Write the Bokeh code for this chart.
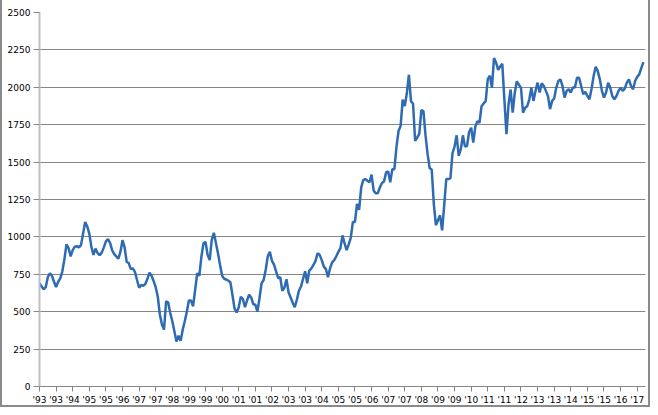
from bokeh.plotting import figure
from bokeh.models import FixedTicker, Range1d, ColumnDataSource
from bokeh.embed import file_html
from bokeh.resources import INLINE

# Monthly values, Jan 1993 .. Apr 2017
values = [
    690, 668, 650, 664, 730, 757, 740, 700, 664, 700, 723, 770,          # 1993
    850, 950, 925, 870, 911, 935, 938, 930, 945, 1022, 1100, 1070,       # 1994
    1022, 934, 880, 922, 892, 878, 895, 930, 970, 985, 960, 911,         # 1995
    885, 870, 855, 900, 978, 930, 834, 825, 785, 790, 765, 712,          # 1996
    660, 679, 673, 685, 720, 761, 740, 705, 664, 600, 480, 414,          # 1997
    380, 569, 562, 491, 436, 370, 300, 340, 305, 380, 436, 502,          # 1998
    575, 575, 535, 646, 757, 740, 867, 956, 967, 880, 845, 980,          # 1999
    1027, 960, 890, 812, 740, 720, 715, 708, 695, 610, 520, 495,         # 2000
    530, 600, 585, 530, 575, 613, 595, 550, 547, 500, 590, 690,          # 2001
    712, 780, 870, 900, 840, 815, 770, 725, 730, 640, 660, 717,          # 2002
    630, 595, 560, 530, 580, 640, 668, 720, 770, 690, 775, 790,          # 2003
    812, 840, 890, 880, 845, 801, 785, 730, 790, 830, 845, 870,          # 2004
    900, 925, 1010, 956, 912, 950, 995, 1100, 1100, 1221, 1180, 1330,    # 2005
    1380, 1387, 1375, 1365, 1416, 1310, 1292, 1292, 1330, 1360, 1370, 1431,  # 2006
    1438, 1365, 1453, 1453, 1600, 1708, 1741, 1918, 1874, 1960, 2084, 1907,  # 2007
    1890, 1642, 1664, 1690, 1847, 1841, 1680, 1553, 1460, 1449, 1221, 1078,  # 2008
    1111, 1144, 1044, 1210, 1387, 1387, 1392, 1560, 1604, 1679, 1542, 1586,  # 2009
    1679, 1604, 1608, 1701, 1730, 1631, 1737, 1774, 1763, 1874, 1892, 1907,  # 2010
    2055, 2077, 1996, 2195, 2166, 2117, 2139, 2157, 1918, 1686, 1885, 1985,  # 2011
    1830, 1962, 2040, 2018, 1996, 1830, 1863, 1874, 1918, 1998, 1909, 1976,  # 2012
    2031, 1965, 2027, 2009, 1976, 1942, 1854, 1909, 1925, 1998, 2042, 2053,  # 2013
    2009, 1931, 1976, 1987, 1965, 1998, 1998, 2064, 2064, 2009, 1954, 1969,  # 2014
    1942, 1920, 1990, 2075, 2137, 2108, 2053, 1976, 1931, 1965, 2031, 1998,  # 2015
    1942, 1920, 1942, 1976, 1998, 1976, 1991, 2031, 2053, 2009, 1987, 2042,  # 2016
    2070, 2086, 2130, 2168,                                              # 2017
]

tick_labels = ["'93", "'93", "'94", "'95", "'95", "'96", "'97", "'97", "'98",
               "'99", "'99", "'00", "'01", "'01", "'02", "'03", "'03", "'04",
               "'05", "'05", "'06", "'07", "'07", "'08", "'09", "'09", "'10",
               "'11", "'11", "'12", "'13", "'13", "'14", "'15", "'15", "'16",
               "'17"]
label_every = 8
y_ticks = [0, 250, 500, 750, 1000, 1250, 1500, 1750, 2000, 2250, 2500]

x = list(range(len(values)))
tick_pos = list(range(0, len(values), label_every))[:len(tick_labels)]

src = ColumnDataSource(dict(x=x, y=values))

p = figure(width=650, height=407, output_backend="svg", toolbar_location=None,
           x_range=Range1d(0, len(values)), y_range=Range1d(0, 2500),
           min_border_left=39, min_border_right=5, min_border_top=12,
           min_border_bottom=20)

p.line("x", "y", source=src, line_color="#2E6BB2", line_width=2.5)

p.outline_line_color = None
p.background_fill_color = "white"
p.border_fill_color = None
p.styles = {"box-shadow": "inset 2px 0 0 #8a8a8a, inset -2px 0 0 #8a8a8a, inset 0 -2px 0 #8a8a8a",
            "background-color": "white"}

# x axis
p.xaxis.ticker = FixedTicker(ticks=tick_pos)
p.xaxis.major_label_overrides = {t: l for t, l in zip(tick_pos, tick_labels)}
p.xaxis.axis_line_color = "#868686"
p.xaxis.major_tick_line_color = "#868686"
p.xaxis.major_tick_out = 5
p.xaxis.major_tick_in = 0
p.xaxis.minor_tick_line_color = None
p.xaxis.major_label_standoff = 3
p.xaxis.major_label_text_font = "DejaVu Sans"
p.xaxis.major_label_text_font_size = "9px"
p.xaxis.major_label_text_color = "#000000"

# y axis
p.yaxis.ticker = FixedTicker(ticks=y_ticks)
p.yaxis.axis_line_color = "#BFBFBF"
p.yaxis.axis_line_width = 2
p.yaxis.major_tick_line_color = "#868686"
p.yaxis.major_tick_out = 6
p.yaxis.major_tick_in = 0
p.yaxis.minor_tick_line_color = None
p.yaxis.major_label_standoff = 3
p.yaxis.major_label_text_font = "DejaVu Sans"
p.yaxis.major_label_text_font_size = "9px"
p.yaxis.major_label_text_color = "#000000"

p.xgrid.visible = False
p.ygrid.ticker = FixedTicker(ticks=y_ticks)
p.ygrid.grid_line_color = "#868686"
p.ygrid.grid_line_width = 1

open("out.html", "w").write(file_html(p, INLINE))
